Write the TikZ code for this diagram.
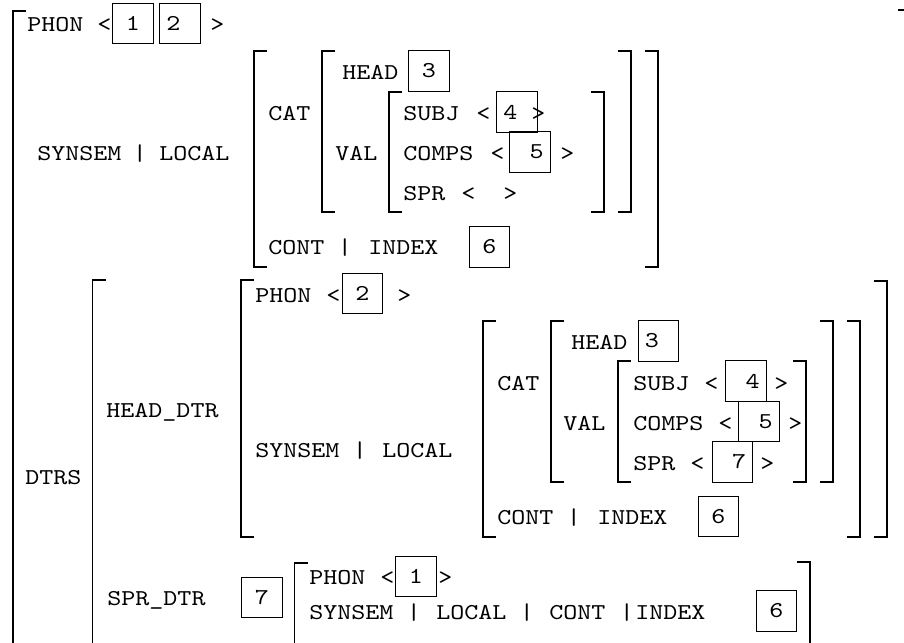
\documentclass[tikz,border=0pt]{standalone}
\usepackage{fontspec}
\usepackage{tikz}
\newfontfamily\avmfont[FakeStretch=1.18]{lmmono10-regular.otf}

\begin{document}
\begin{tikzpicture}[x=0.75pt, y=-0.75pt,
  font=\fontsize{17}{20}\selectfont\avmfont,
  lbl/.style={anchor=base west, inner sep=0pt},
  bar/.style={anchor=base, inner sep=0pt},
  tag/.style={draw, line width=0.9pt, minimum width=30.5pt, minimum height=30.5pt, inner sep=0pt},
  tagl/.style={tag, text width=20.5pt, inner xsep=5pt, align=left},
  tagr/.style={tag, text width=20.5pt, inner xsep=5pt, align=right},
  brk/.style={line width=1.3pt}]
  \useasboundingbox (0,0) rectangle (904,643);
  \clip (0,0) rectangle (904,643);
  % brackets: left ones open to the right, right ones to the left
  \foreach \x/\t/\b in {12.7/11/660, 254/51/267, 322/51/212, 389/92/212, 92.5/280/660,
      241/280/537, 483/321/537, 551/321/482, 618/361/482, 294.5/563/660}
    \draw[brk] (\x+13,\t) -- (\x,\t) -- (\x,\b) -- (\x+13,\b);
  \foreach \x/\t/\b in {911/10/660, 658/51/267, 631/51/212, 604/92/212,
      887/281/537, 860/321/537, 833/321/482, 806/361/482, 810/562/660}
    \draw[brk] (\x-13,\t) -- (\x,\t) -- (\x,\b) -- (\x-13,\b);

  % mother
  \node[lbl] (phon-a) at (27,31) {PHON}; \node[lbl] (phon-a-lt) at (97,31) {<};
  \node[tag] (phon-a-1) at (133,23.5) {1}; \node[tagl] (phon-a-2) at (180,23.5) {2};
  \node[lbl] (phon-a-gt) at (210,31) {>};
  \node[lbl] (ss-a) at (37,160) {SYNSEM}; \node[bar] (ss-a-bar) at (140,160) {|};
  \node[lbl] (loc-a) at (159,160) {LOCAL};
  \node[lbl] (cat-a) at (268,120) {CAT};
  \node[lbl] (head-a) at (342,79) {HEAD}; \node[tag] (head-a-3) at (429,71) {3};
  \node[lbl] (val-a) at (335,160) {VAL};
  \node[lbl] (subj-a) at (403,120) {SUBJ}; \node[lbl] (subj-a-lt) at (476,120) {<};
  \node[tagl] (subj-a-4) at (517,112) {4}; \node[lbl] (subj-a-gt) at (531,120) {>};
  \node[lbl] (comps-a) at (403,160) {COMPS}; \node[lbl] (comps-a-lt) at (490,160) {<};
  \node[tagr] (comps-a-5) at (530,152) {5}; \node[lbl] (comps-a-gt) at (560,160) {>};
  \node[lbl] (spr-a) at (403,200) {SPR}; \node[lbl] (spr-a-lt) at (461,200) {<};
  \node[lbl] (spr-a-gt) at (503,200) {>};
  \node[lbl] (cont-a) at (268,254) {CONT}; \node[bar] (cont-a-bar) at (345,254) {|};
  \node[lbl] (index-a) at (368,254) {INDEX}; \node[tag] (index-a-6) at (489.5,247) {6};

  % daughters
  \node[lbl] (dtrs) at (25,484) {DTRS};
  \node[lbl] (hdtr) at (106,417) {HEAD\_DTR};
  \node[lbl] (phon-h) at (255,302) {PHON}; \node[lbl] (phon-h-lt) at (326,302) {<};
  \node[tag] (phon-h-2) at (362.5,293.5) {2}; \node[lbl] (phon-h-gt) at (397,302) {>};
  \node[lbl] (ss-h) at (255,457) {SYNSEM}; \node[bar] (ss-h-bar) at (360,457) {|};
  \node[lbl] (loc-h) at (382,457) {LOCAL};
  \node[lbl] (cat-h) at (497,390) {CAT};
  \node[lbl] (head-h) at (571,349) {HEAD}; \node[tagl] (head-h-3) at (658.5,341) {3};
  \node[lbl] (val-h) at (563,430) {VAL};
  \node[lbl] (subj-h) at (633,390) {SUBJ}; \node[lbl] (subj-h-lt) at (704,390) {<};
  \node[tagr] (subj-h-4) at (746,381) {4}; \node[lbl] (subj-h-gt) at (774,390) {>};
  \node[lbl] (comps-h) at (633,430) {COMPS}; \node[lbl] (comps-h-lt) at (718,430) {<};
  \node[tagr] (comps-h-5) at (759,421.5) {5}; \node[lbl] (comps-h-gt) at (788,430) {>};
  \node[lbl] (spr-h) at (633,470) {SPR}; \node[lbl] (spr-h-lt) at (690,470) {<};
  \node[tagr] (spr-h-7) at (732.5,462) {7}; \node[lbl] (spr-h-gt) at (760,470) {>};
  \node[lbl] (cont-h) at (497,524) {CONT}; \node[bar] (cont-h-bar) at (574,524) {|};
  \node[lbl] (index-h) at (597,524) {INDEX}; \node[tag] (index-h-6) at (718.5,516.5) {6};

  \node[lbl] (sdtr) at (107,605) {SPR\_DTR}; \node[tag] (sdtr-7) at (262,597.5) {7};
  \node[lbl] (phon-s) at (309,584) {PHON}; \node[lbl] (phon-s-lt) at (380,584) {<};
  \node[tag] (phon-s-1) at (416,576.5) {1}; \node[lbl] (phon-s-gt) at (438,584) {>};
  \node[lbl] (ss-s) at (309,619) {SYNSEM}; \node[bar] (ss-s-bar) at (414,619) {|};
  \node[lbl] (loc-s) at (436,619) {LOCAL}; \node[bar] (loc-s-bar) at (527,619) {|};
  \node[lbl] (cont-s) at (549,619) {CONT}; \node[bar] (cont-s-bar) at (627,619) {|};
  \node[lbl] (index-s) at (635,619) {INDEX}; \node[tag] (index-s-6) at (776.5,611) {6};
\end{tikzpicture}
\end{document}
